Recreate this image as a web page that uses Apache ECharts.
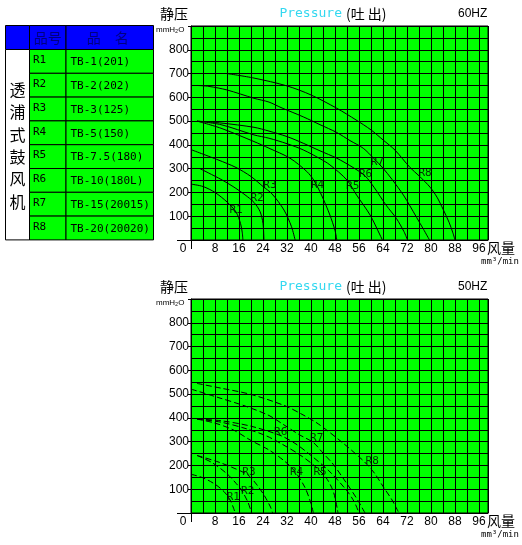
<!DOCTYPE html>
<html><head><meta charset="utf-8">
<script src="https://cdn.jsdelivr.net/npm/echarts@6/dist/echarts.min.js"></script>
<style>html,body{margin:0;padding:0;background:#fff}#c{width:522px;height:545px}</style>
</head><body><div id="c"></div>
<script>
// ---------- data ----------
const codes = ['R1','R2','R3','R4','R5','R6','R7','R8'];
const names = ['TB-1(201)','TB-2(202)','TB-3(125)','TB-5(150)','TB-7.5(180)','TB-10(180L)','TB-15(20015)','TB-20(20020)'];
const headCode = '品号';
const headName = '品　名';
const sideTitle = '透浦式鼓风机';
const freqLabels = ['60HZ','50HZ'];
const xTickLabels = [0,8,16,24,32,40,48,56,64,72,80,88,96];
const yTickLabels = [100,200,300,400,500,600,700,800];

// 60HZ curves (flow m3/min, static pressure mmH2O)
const r1_60 = [[0,235],[4,225],[8,200],[12,160],[15,118],[16.5,70],[17.1,30],[17.3,0]];
const r2_60 = [[3,300],[10,255],[14,225],[18,190],[21,158],[23,120],[24,70],[24.3,0]];
const r3_60 = [[0,380],[9,337],[15,305],[20,267],[24,225],[27,194],[31,126],[33.5,56],[34.7,0]];
const r4_60 = [[2,500],[10,470],[21,414],[26,386],[33,344],[38.6,288],[41,250],[43.5,189],[46.3,105],[48,40],[48.6,0]];
const r5_60 = [[2,500],[10,485],[21,442],[26,428],[32,405],[37.4,379],[43,342],[46.3,316],[52,252],[55.2,189],[59.7,105],[63,21],[63.8,0]];
const r6_60 = [[2,500],[10,492],[21,474],[26,458],[32,435],[37.4,407],[43,375],[48.6,344],[54,305],[58,270],[61,222],[65,147],[68.5,90],[71,35],[72.2,0]];
const r7_60 = [[2,650],[6,646],[12,631],[21,596],[26,580],[30,557],[37.4,518],[43,485],[48.6,452],[53,418],[57.4,386],[61,342],[64,302],[67,255],[70.8,189],[73,143],[75.2,95],[77.5,45],[79.5,0]];
const r8_60 = [[12,700],[21,681],[32,648],[40,610],[48.6,554],[55,505],[60,463],[64,421],[68,378],[73,305],[76,270],[79.7,222],[82,180],[84,130],[86,75],[87.3,30],[88,0]];
const labels60 = [[15,126],[22,177],[26.3,232],[42.2,232],[53.9,227],[58.2,278],[62.1,327],[78,281]];

// 50HZ curves
const r1_50 = [[0,163],[4,148],[8,121],[11,90],[13,55],[14.2,20],[14.7,0]];
const r2_50 = [[2,242],[7,212],[12,165],[15,125],[17,93],[19,45],[20.2,0]];
const r3_50 = [[2,242],[9,215],[15,185],[19,160],[22,118],[24.5,72],[26.5,25],[27.2,0]];
const r4_50 = [[2,395],[8,378],[14,350],[20,305],[26,265],[31,220],[34.5,177],[38,107],[40,40],[40.8,0]];
const r5_50 = [[2,395],[10,382],[18,356],[25,325],[30,292],[36,247],[41,200],[45,149],[47.5,88],[49,0]];
const r6_50 = [[2,395],[10,388],[20,365],[30,325],[35,290],[40,242],[46,177],[52,93],[54.5,45],[56,0]];
const r7_50 = [[0,521],[9,486],[18,450],[26,410],[31.3,368],[36,330],[40.8,296],[44,252],[47.4,205],[50.5,150],[53.6,93],[56,45],[58,0]];
const r8_50 = [[2,545],[10,525],[20.2,498],[31.3,451],[37,415],[42.4,375],[50.5,296],[56.3,233],[58.6,205],[61.3,165],[64.1,110],[67,55],[69.3,0]];
const labels50 = [[14.1,67],[18.9,93],[19.3,170],[35.2,170],[43,170],[29.9,338],[41.9,313],[60.4,216]];

const curves60 = [r1_60,r2_60,r3_60,r4_60,r5_60,r6_60,r7_60,r8_60];
const curves50 = [r1_50,r2_50,r3_50,r4_50,r5_50,r6_50,r7_50,r8_50];

// ---------- layout ----------
const SANS = '"Liberation Sans", Arial, sans-serif';
const MONO = '"DejaVu Sans Mono", "Liberation Mono", monospace';
const CJK = '"Noto Sans CJK SC", sans-serif';
const G = [{left:191, top:26, width:297, height:214}, {left:191, top:299, width:297, height:214}];

const chart = echarts.init(document.getElementById('c'), null, {renderer:'canvas'});

function xAxisFor(gi){
  return {type:'value', gridIndex:gi, min:0, max:99, interval:8,
    axisLine:{show:true, onZero:false, lineStyle:{color:'#000', width:1}},
    axisTick:{show:false},
    minorTick:{show:false, splitNumber:2},
    splitLine:{show:true, lineStyle:{color:'#000', width:1}},
    minorSplitLine:{show:true, lineStyle:{color:'#000', width:1}},
    axisLabel:{margin:3, color:'#000', fontSize:12, fontFamily:SANS,
      formatter: v => v === 0 ? '{o|0}' : (xTickLabels.indexOf(v) >= 0 ? String(v) : ''),
      rich:{o:{padding:[0,16,0,0], fontSize:12, fontFamily:SANS, color:'#000'}}}
  };
}
function yAxisFor(gi){
  return {type:'value', gridIndex:gi, min:0, max:900, interval:100,
    axisLine:{show:true, onZero:false, lineStyle:{color:'#000', width:1}},
    axisTick:{show:true, length:3, lineStyle:{color:'#000'}},
    minorTick:{show:false, splitNumber:2},
    splitLine:{show:true, lineStyle:{color:'#000', width:1}},
    minorSplitLine:{show:true, lineStyle:{color:'#000', width:1}},
    axisLabel:{margin:2, color:'#000', fontSize:12, fontFamily:SANS,
      formatter: v => yTickLabels.indexOf(v) >= 0 ? String(v) : ''}
  };
}

const series = [];
[curves60, curves50].forEach((set, gi) => {
  set.forEach((d, i) => {
    series.push({type:'line', name:codes[i], xAxisIndex:gi, yAxisIndex:gi, data:d,
      smooth:0.3, symbol:'none', silent:true,
      lineStyle:{color:'#000', width:1, type: gi === 0 ? 'solid' : [6,3]}});
  });
  const lp = gi === 0 ? labels60 : labels50;
  series.push({type:'scatter', xAxisIndex:gi, yAxisIndex:gi, symbolSize:0, silent:true,
    data: codes.map((c,i) => ({name:c, value:lp[i]})),
    label:{show:true, position:'inside', formatter:'{b}', color:'#000', fontSize:11, fontFamily:MONO}});
});

// ---------- table + static texts ----------
const graphic = [];
const TX0 = 5.5, TX1 = 29.5, TX2 = 66, TX3 = 153.5;
const TY0 = 25.5, TY1 = 49.5, RH = 23.8;
function rect(x,y,w,h,fill){ graphic.push({type:'rect', shape:{x:x,y:y,width:w,height:h}, style:{fill:fill, stroke:'#000', lineWidth:1}, silent:true}); }
function text(t,x,y,font,fill,align,extra){ graphic.push({type:'text', silent:true, style:Object.assign({text:t, x:x, y:y, font:font, fill:fill||'#000', textAlign:align||'left', textVerticalAlign:'middle', verticalAlign:'middle'}, extra||{})}); }

rect(TX0, TY0, TX1-TX0, TY1-TY0, '#0000ff');
rect(TX1, TY0, TX2-TX1, TY1-TY0, '#0000ff');
rect(TX2, TY0, TX3-TX2, TY1-TY0, '#0000ff');
text(headCode, (TX1+TX2)/2, (TY0+TY1)/2, '14px ' + CJK, '#000080', 'center');
text(headName, (TX2+TX3)/2 - 2, (TY0+TY1)/2, '14px ' + CJK, '#000080', 'center');
rect(TX0, TY1, TX1-TX0, RH*codes.length, '#ffffff');
codes.forEach((c,i) => {
  const y = TY1 + i*RH;
  rect(TX1, y, TX2-TX1, RH, '#00ff00');
  rect(TX2, y, TX3-TX2, RH, '#00ff00');
  text(c, TX1 + 3.5, y + RH/2 - 1, '11px ' + MONO, '#000', 'left');
  text(names[i], TX2 + 4.5, y + RH/2 + 1, '11px ' + MONO, '#000', 'left');
});
text(sideTitle.split('').join('\n'), (TX0+TX1)/2, TY1 + RH*codes.length/2 + 1, '16px ' + CJK, '#000', 'center', {lineHeight:22.4});

G.forEach((g, gi) => {
  const oy = g.top - 26;
  const bottom = g.top + g.height;
  text('静压', 160, 14 + oy, '14px ' + CJK, '#000', 'left');
  text('mmH₂O', 156, 30 + oy, '8px ' + SANS, '#000', 'left');
  text('{a|Pressure}{b|(吐 出)}', 333, 14 + oy, '13px ' + MONO, '#000', 'center',
    {rich:{a:{font:'13px ' + MONO, fill:'#33d8f0'}, b:{font:'14px ' + CJK, fill:'#000', padding:[0,0,0,4]}}});
  text(freqLabels[gi], 458, 14 + oy, '12px ' + SANS, '#000', 'left');
  text('风量', 487, bottom + 8, '14px ' + CJK, '#000', 'left');
  text('mm³/min', 481, bottom + 22, '9px ' + MONO, '#000', 'left');
  graphic.push({type:'line', silent:true, shape:{x1:177, y1:bottom+0.5, x2:g.left, y2:bottom+0.5}, style:{stroke:'#000', lineWidth:1}});
  graphic.push({type:'line', silent:true, shape:{x1:g.left+0.5, y1:bottom, x2:g.left+0.5, y2:bottom+9}, style:{stroke:'#000', lineWidth:1}});
});

chart.setOption({
  animation:false,
  backgroundColor:'#fff',
  textStyle:{fontFamily:SANS},
  grid: G.map(g => Object.assign({show:true, backgroundColor:'#00ff00', borderColor:'#000', borderWidth:1, containLabel:false}, g)),
  xAxis:[xAxisFor(0), xAxisFor(1)],
  yAxis:[yAxisFor(0), yAxisFor(1)],
  series: series,
  graphic: graphic
});
</script></body></html>
